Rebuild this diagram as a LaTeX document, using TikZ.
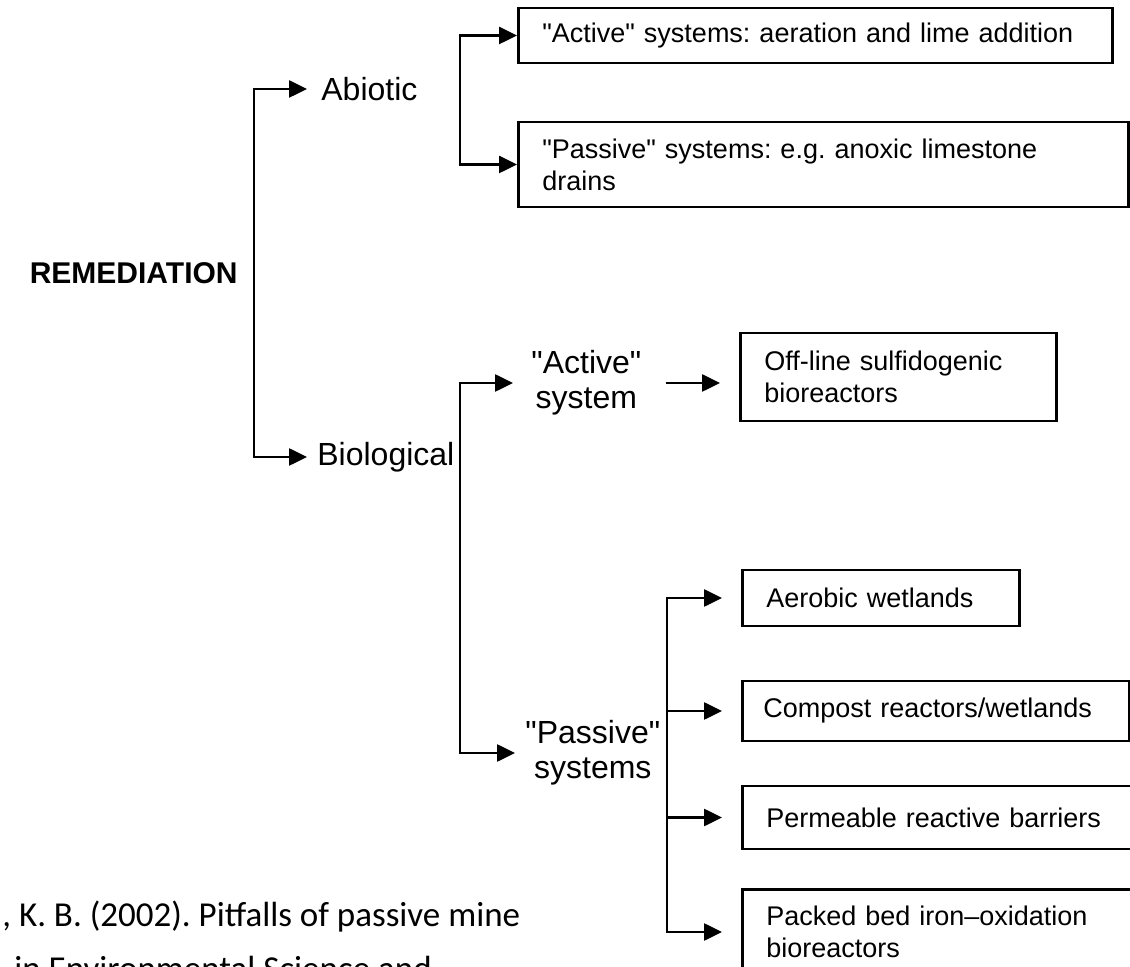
\documentclass[tikz,border=0pt]{standalone}
\usepackage{fontspec}
\setmainfont{Liberation Sans}[Ligatures=TeXOff]
\newfontfamily\citefont{Carlito}
\usetikzlibrary{arrows.meta}
\frenchspacing

\tikzset{
  conn/.style={line width=1.3pt, -{Triangle[length=9pt,width=8.5pt]}},
  twoway/.style={line width=1.3pt, {Triangle[length=9pt,width=8.5pt]}-{Triangle[length=9pt,width=8.5pt]}},
  lbl/.style={font=\fontsize{16}{17.5}\selectfont, inner xsep=5pt, align=center, anchor=west},
  optbox/.style={draw, line width=1.3pt, font=\fontsize{13.5}{16}\selectfont, inner xsep=12pt, align=left, anchor=west, text width=#1},
}

\begin{document}
\begin{tikzpicture}[x=0.5pt,y=0.5pt,yscale=-1,xscale=1]
\useasboundingbox (0,0) rectangle (1130,967);

% root and first split
\node[font=\bfseries\fontsize{15}{17}\selectfont, anchor=east, inner sep=0pt] (remed) at (238,273) {REMEDIATION};
\node[lbl, inner xsep=7pt] (abiotic) at (307,89) {Abiotic};
\node[lbl] (biol) at (307,457) {Biological};
\coordinate (trunk) at (254,273);
\draw[twoway] (abiotic.west) -| (trunk) |- (biol.west);

% abiotic systems
\node[optbox=273pt, minimum height=27.5pt] (actbox) at (517,35.5) {"Active" systems: aeration and lime addition};
\node[optbox=281pt, minimum height=42.5pt] (pasbox) at (517,164.5) {"Passive" systems: e.g. anoxic limestone\\drains};
\coordinate (abr) at (460,100);
\draw[twoway] (actbox.west) -| (abr) |- (pasbox.west);

% biological systems
\node[lbl, inner xsep=9pt] (bioact) at (513,383) {"Active"\\system};
\node[lbl] (biopas) at (515,753) {"Passive"\\systems};
\coordinate (bbr) at (460,560);
\draw[twoway] (bioact.west) -| (bbr) |- (biopas.west);

\node[optbox=134pt, minimum height=44pt] (offbox) at (739,377) {Off-line sulfidogenic\\bioreactors};
\draw[conn, shorten <=3pt, shorten >=9.5pt] (bioact.east) -- (bioact.east -| offbox.west);

% passive options
\node[optbox=114.5pt, minimum height=28pt] (aerobic) at (741,598) {Aerobic wetlands};
\node[optbox=172.5pt, inner xsep=10.5pt, minimum height=30pt] (compost) at (741,711) {Compost reactors/wetlands};
\node[optbox=176pt, minimum height=31.5pt] (prb) at (741,817.5) {Permeable reactive barriers};
\node[optbox=176pt, minimum height=42.5pt] (packed) at (741,932) {Packed bed iron–oxidation\\bioreactors};
\coordinate (pbr) at (667,760);
\foreach \b in {aerobic,compost,prb,packed}
  \draw[conn, shorten >=9.5pt] (pbr) |- (\b.west);

% reference lines at the bottom
\node[font=\citefont\fontsize{17.5}{21}\selectfont, anchor=base west, inner sep=0pt] (cite1) at (2,926) {, K. B. (2002). Pitfalls of passive mine};
\node[font=\citefont\fontsize{17.5}{21}\selectfont, anchor=base west, inner sep=0pt] (cite2) at (14,980) {in Environmental Science and};

\end{tikzpicture}
\end{document}
